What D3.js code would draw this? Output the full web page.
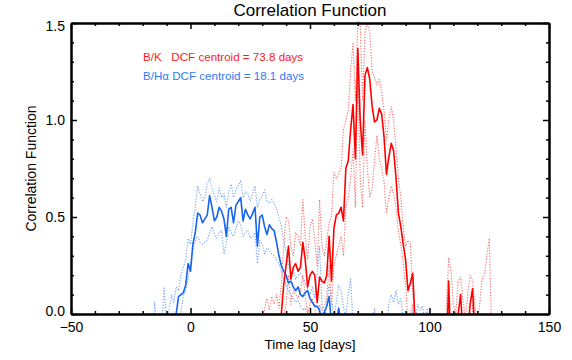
<!DOCTYPE html>
<html>
<head>
<meta charset="utf-8">
<script src="https://cdn.jsdelivr.net/npm/d3@7"></script>
<style>
  body { margin: 0; background: #fff; }
  text { font-family: "Liberation Sans", Arial, sans-serif; }
</style>
</head>
<body>
<div id="chart"></div>
<script>
// set the dimensions and margins of the graph
var width = 572
var height = 360
var margin = { top: 23, right: 23, bottom: 46, left: 71 }
var w = width - margin.left - margin.right
var h = height - margin.top - margin.bottom

// B/Halpha DCF (lag in days)
var blueLag = [-16, -15, -14, -13, -12, -11, -10, -9, -8, -7,
    -6, -5, -4, -3, -2, -1, 0, 1, 2, 3,
    4, 5, 6, 7, 8, 9, 10, 11, 12, 13,
    14, 15, 16, 17, 18, 19, 20, 21, 22, 23,
    24, 25, 26, 27, 28, 29, 30, 31, 32, 33,
    34, 35, 36, 37, 38, 39, 40, 41, 42, 43,
    44, 45, 46, 47, 48, 49, 50, 51, 52, 53,
    54, 55, 56, 57, 58, 59, 60, 61, 62, 63,
    64, 65, 66, 67, 68, 69, 70, 71, 72, 73,
    74, 75, 76, 77, 78, 79, 80, 81, 82, 83,
    84, 85, 86, 87, 88, 89, 90, 91, 92, 93,
    94, 95, 96, 97, 98, 99, 100]
var blueMean = [-0.3, -0.3, -0.3, -0.3, -0.3, -0.3, -0.3, -0.3, -0.2, -0.1,
    0.0, 0.09, 0.10, 0.11, 0.15, 0.26, 0.22, 0.36, 0.42, 0.52,
    0.51, 0.47, 0.49, 0.51, 0.61, 0.55, 0.48, 0.50, 0.55, 0.53,
    0.49, 0.40, 0.54, 0.55, 0.47, 0.56, 0.58, 0.60, 0.48, 0.54,
    0.51, 0.49, 0.52, 0.55, 0.35, 0.50, 0.51, 0.45, 0.41, 0.46,
    0.44, 0.43, 0.37, 0.30, 0.25, 0.22, 0.20, 0.16, 0.17, 0.14,
    0.12, 0.14, 0.10, 0.09, 0.11, 0.12, 0.08, 0.06, 0.04, 0.04,
    0.02, -0.05, 0.01, 0.04, 0.09, -0.05, 0.0, -0.05, 0.03, -0.05,
    -0.2, -0.2, -0.2, -0.2, -0.2, -0.2, -0.2, -0.2, -0.2, -0.2,
    -0.2, -0.2, -0.2, -0.2, -0.2, -0.2, -0.2, -0.2, -0.2, -0.2,
    -0.2, -0.2, -0.2, -0.2, -0.2, -0.2, -0.2, -0.2, -0.2, -0.2,
    -0.2, -0.2, -0.2, -0.2, -0.2, -0.2, -0.2]
var blueUpper = [-0.2, 0.06, -0.1, -0.2, -0.05, 0.14, -0.05, 0.02, 0.10, 0.06,
    0.14, 0.12, 0.20, 0.24, 0.28, 0.39, 0.36, 0.47, 0.55, 0.66,
    0.62, 0.58, 0.60, 0.67, 0.70, 0.65, 0.61, 0.58, 0.65, 0.60,
    0.62, 0.55, 0.63, 0.67, 0.60, 0.64, 0.66, 0.69, 0.60, 0.63,
    0.62, 0.58, 0.62, 0.66, 0.55, 0.59, 0.61, 0.64, 0.58, 0.57,
    0.59, 0.57, 0.54, 0.50, 0.45, 0.38, 0.32, 0.25, 0.24, 0.23,
    0.18, 0.20, 0.21, 0.19, 0.16, 0.13, 0.10, 0.14, 0.08, 0.20,
    0.35, 0.05, -0.05, 0.05, 0.15, 0.08, -0.02, 0.06, 0.15, 0.12,
    0.03, -0.02, 0.10, 0.18, -0.05, -0.1, -0.1, -0.1, -0.1, -0.1,
    -0.1, -0.1, -0.05, 0.03, -0.05, -0.1, -0.1, -0.1, -0.05, 0.05,
    0.10, 0.06, 0.12, 0.05, 0.08, -0.02, -0.1, -0.1, -0.05, 0.02,
    -0.05, 0.05, 0.02, 0.04, -0.02, 0.03, -0.05]
var blueLower = [-0.3, -0.3, -0.3, -0.3, -0.3, -0.3, -0.3, -0.3, -0.3, -0.3,
    -0.3, -0.1, 0.0, 0.10, 0.12, 0.18, 0.26, 0.33, 0.38, 0.40,
    0.37, 0.36, 0.37, 0.38, 0.42, 0.45, 0.41, 0.39, 0.42, 0.43,
    0.31, 0.36, 0.45, 0.42, 0.40, 0.44, 0.48, 0.46, 0.40, 0.42,
    0.43, 0.39, 0.40, 0.42, 0.26, 0.38, 0.36, 0.31, 0.34, 0.33,
    0.31, 0.30, 0.28, 0.26, 0.22, 0.18, 0.15, 0.12, 0.10, 0.08,
    0.06, 0.07, 0.04, 0.02, 0.03, 0.01, -0.02, -0.05, -0.1, -0.1,
    -0.2, -0.2, -0.2, -0.2, -0.2, -0.2, -0.2, -0.2, -0.2, -0.2,
    -0.2, -0.2, -0.2, -0.2, -0.2, -0.2, -0.2, -0.2, -0.2, -0.2,
    -0.2, -0.2, -0.2, -0.2, -0.2, -0.2, -0.2, -0.2, -0.2, -0.2,
    -0.2, -0.2, -0.2, -0.2, -0.2, -0.2, -0.2, -0.2, -0.2, -0.2,
    -0.2, -0.2, -0.2, -0.2, -0.2, -0.2, -0.2]

// B/K DCF
var redLag = [30, 31, 32, 33, 34, 35, 36, 37, 38, 39,
    40, 41, 42, 43, 44, 45, 46, 47, 48, 49,
    50, 51, 52, 53, 54, 55, 56, 57, 58, 59,
    60, 61, 62, 63, 64, 65, 66, 67, 68, 69,
    70, 71, 72, 73, 74, 75, 76, 77, 78, 79,
    80, 81, 82, 83, 84, 85, 86, 87, 88, 89,
    90, 91, 92, 93, 94, 95, 96, 97, 98, 99,
    100, 101, 102, 103, 104, 105, 106, 107, 108, 109,
    110, 111, 112, 113, 114, 115, 116, 117, 118, 119,
    120, 121, 122, 123, 124, 125, 126]
var redMean = [-0.3, -0.3, -0.3, -0.3, -0.3, -0.3, -0.3, -0.2, 0.0, 0.15,
    0.25, 0.35, 0.18, 0.24, 0.26, 0.22, 0.24, 0.37, 0.28, 0.14,
    0.20, 0.22, 0.20, 0.06, 0.19, 0.17, 0.16, 0.20, 0.40, 0.17,
    0.44, 0.51, 0.52, 0.55, 0.48, 0.75, 0.79, 0.95, 1.08, 0.80,
    1.37, 1.00, 0.82, 1.23, 1.27, 1.21, 1.07, 0.99, 1.00, 1.06,
    1.03, 0.91, 0.72, 0.81, 0.88, 0.84, 0.70, 0.52, 0.45, 0.36,
    0.28, 0.12, 0.16, 0.21, -0.05, -0.3, -0.3, -0.3, -0.3, -0.3,
    -0.3, -0.3, -0.3, -0.3, -0.3, -0.3, -0.3, -0.3, 0.17, -0.2,
    -0.3, -0.2, 0.0, 0.10, -0.1, -0.3, -0.1, 0.05, 0.13, -0.1,
    -0.3, -0.3, -0.3, -0.3, -0.3, -0.3, -0.3]
var redUpper = [-0.1, 0.03, 0.08, 0.02, 0.09, 0.05, 0.10, 0.03, 0.15, 0.35,
    0.50, 0.48, 0.35, 0.30, 0.42, 0.40, 0.35, 0.59, 0.40, 0.28,
    0.45, 0.49, 0.38, 0.25, 0.59, 0.35, 0.30, 0.38, 0.47, 0.50,
    0.73, 0.70, 0.72, 0.75, 0.95, 1.00, 1.05, 1.25, 1.40, 1.10,
    1.51, 1.50, 1.10, 1.45, 1.50, 1.45, 1.25, 1.22, 1.18, 1.21,
    1.14, 1.05, 0.89, 1.00, 1.07, 1.00, 0.85, 0.70, 0.60, 0.45,
    0.35, 0.38, 0.36, 0.10, -0.05, -0.2, -0.2, -0.2, -0.2, -0.2,
    -0.2, -0.2, -0.2, -0.2, -0.2, -0.2, -0.2, 0.0, 0.29, 0.22,
    0.05, 0.0, 0.17, 0.19, 0.08, -0.02, 0.10, 0.20, 0.17, 0.05,
    -0.05, 0.05, 0.18, 0.20, 0.30, 0.39, -0.1]
var redLower = [-0.3, -0.3, -0.3, -0.3, -0.3, -0.3, -0.3, -0.3, -0.1, 0.0,
    0.05, 0.20, 0.05, 0.12, 0.10, 0.08, 0.12, 0.20, 0.10, 0.0,
    0.05, 0.08, 0.05, -0.1, 0.05, 0.02, 0.04, 0.08, 0.25, 0.05,
    0.25, 0.30, 0.35, 0.40, 0.30, 0.55, 0.60, 0.70, 0.85, 0.55,
    1.29, 0.70, 0.55, 1.00, 0.75, 0.60, 0.65, 0.79, 0.92, 0.80,
    0.75, 0.68, 0.52, 0.60, 0.66, 0.62, 0.55, 0.42, 0.36, 0.26,
    0.15, -0.05, 0.0, 0.05, -0.3, -0.3, -0.3, -0.3, -0.3, -0.3,
    -0.3, -0.3, -0.3, -0.3, -0.3, -0.3, -0.3, -0.3, 0.08, -0.2,
    -0.3, -0.3, -0.3, 0.0, -0.3, -0.3, -0.3, -0.3, 0.05, -0.3,
    -0.3, -0.3, -0.3, -0.3, -0.3, -0.3, -0.3]

// ticks
var xMajor = [-50, 0, 50, 100, 150]
var xMinor = [-40, -30, -20, -10, 10, 20, 30, 40, 60, 70, 80, 90, 110, 120, 130, 140]
var yMajor = [0.0, 0.5, 1.0, 1.5]
var yMinor = [0.1, 0.2, 0.3, 0.4, 0.6, 0.7, 0.8, 0.9, 1.1, 1.2, 1.3, 1.4]

var legendLines = [
    { text: "B/K   DCF centroid = 73.8 days", color: "#ff1a1a" },
    { text: "B/H\u03b1 DCF centroid = 18.1 days", color: "#2f7bf5" }
]

var svg = d3.select("#chart")
    .append("svg")
    .attr("width", width)
    .attr("height", height)

var g = svg.append("g").attr("transform", "translate(" + margin.left + "," + margin.top + ")")

var x = d3.scaleLinear().domain([-50, 150]).range([0, w])
var y = d3.scaleLinear().domain([0, 1.5]).range([h, 0])

g.append("clipPath").attr("id", "clip")
    .append("rect").attr("x", 0).attr("y", -2).attr("width", w).attr("height", h + 2)

var plot = g.append("g").attr("clip-path", "url(#clip)")

function drawSeries(lag, vals, color, sw, dash) {
    var pts = lag.map(function(d, i) { return [d, vals[i]] })
    plot.append("path")
        .datum(pts)
        .attr("fill", "none")
        .attr("stroke", color)
        .attr("stroke-width", sw)
        .attr("stroke-dasharray", dash)
        .attr("stroke-linejoin", "round")
        .attr("d", d3.line().x(function(d) { return x(d[0]) }).y(function(d) { return y(d[1]) }))
}

// dotted error bounds first, then solid means
drawSeries(blueLag, blueUpper, "#6fa3f7", 1.1, "1.2,1.6")
drawSeries(blueLag, blueLower, "#6fa3f7", 1.1, "1.2,1.6")
drawSeries(redLag, redUpper, "#ff6b6b", 1.1, "1.2,1.6")
drawSeries(redLag, redLower, "#ff6b6b", 1.1, "1.2,1.6")
drawSeries(blueLag, blueMean, "#1764f0", 1.6, null)
drawSeries(redLag, redMean, "#ff0000", 1.6, null)

// axes with inward ticks on all four sides
function styleAxis(sel) {
    sel.select(".domain").attr("stroke", "#000").attr("stroke-width", 2)
    sel.selectAll(".tick line").attr("stroke", "#000").attr("stroke-width", 1.5)
    sel.selectAll("text").style("font-size", "14px").attr("fill", "#000")
        .style("font-family", "'Liberation Sans', Arial, sans-serif")
}

var fmtY = d3.format(".1f")

g.append("g").attr("transform", "translate(0," + h + ")")
    .call(d3.axisBottom(x).tickValues(xMinor).tickSize(-3).tickSizeOuter(0).tickFormat(""))
    .call(styleAxis)
g.append("g").attr("transform", "translate(0," + h + ")")
    .call(d3.axisBottom(x).tickValues(xMajor).tickSize(-6).tickSizeOuter(0).tickPadding(8))
    .call(styleAxis)
g.append("g")
    .call(d3.axisTop(x).tickValues(xMinor).tickSize(-3).tickSizeOuter(0).tickFormat(""))
    .call(styleAxis)
g.append("g")
    .call(d3.axisTop(x).tickValues(xMajor).tickSize(-6).tickSizeOuter(0).tickFormat(""))
    .call(styleAxis)

g.append("g")
    .call(d3.axisLeft(y).tickValues(yMinor).tickSize(-3).tickSizeOuter(0).tickFormat(""))
    .call(styleAxis)
var yAxisMajor = g.append("g")
    .call(d3.axisLeft(y).tickValues(yMajor).tickSize(-6).tickSizeOuter(0).tickPadding(6).tickFormat(fmtY))
    .call(styleAxis)
// end labels sit a little inside the frame, as in the original
yAxisMajor.selectAll(".tick text")
    .attr("y", function(d) { return d === 0 ? -3 : (d === 1.5 ? 3 : 0) })

g.append("g").attr("transform", "translate(" + w + ",0)")
    .call(d3.axisRight(y).tickValues(yMinor).tickSize(-3).tickSizeOuter(0).tickFormat(""))
    .call(styleAxis)
g.append("g").attr("transform", "translate(" + w + ",0)")
    .call(d3.axisRight(y).tickValues(yMajor).tickSize(-6).tickSizeOuter(0).tickFormat(""))
    .call(styleAxis)

// titles
svg.append("text")
    .attr("x", margin.left + w / 2).attr("y", 16)
    .attr("text-anchor", "middle")
    .style("font-size", "17px")
    .text("Correlation Function")

svg.append("text")
    .attr("x", margin.left + w / 2).attr("y", 349)
    .attr("text-anchor", "middle")
    .style("font-size", "13.5px")
    .text("Time lag [days]")

svg.append("text")
    .attr("transform", "translate(36," + (margin.top + h / 2) + ") rotate(-90)")
    .attr("text-anchor", "middle")
    .style("font-size", "14px")
    .text("Correlation Function")

// legend text
svg.selectAll(".legend")
    .data(legendLines)
    .enter()
    .append("text")
    .attr("class", "legend")
    .attr("x", 143)
    .attr("y", function(d, i) { return 61 + i * 19 })
    .style("font-size", "11.6px")
    .style("white-space", "pre")
    .attr("fill", function(d) { return d.color })
    .text(function(d) { return d.text })
</script>
</body>
</html>
